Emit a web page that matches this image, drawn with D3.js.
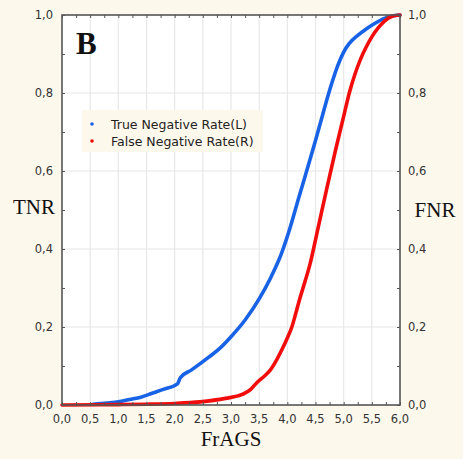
<!DOCTYPE html>
<html>
<head>
<meta charset="utf-8">
<script src="https://cdn.jsdelivr.net/npm/d3@7"></script>
<style>
  body { margin: 0; background: #fdf8ec; }
  svg { display: block; }
</style>
</head>
<body>
<div id="chart"></div>
<script>
// values
const tnrX = [0.55, 0.8, 1.0, 1.2, 1.4, 1.6, 1.8, 2.05, 2.1, 2.3, 2.6, 2.8, 3.0, 3.25, 3.5, 3.7, 3.9, 4.05, 4.2, 4.4, 4.5, 4.6, 4.7, 4.8, 4.9, 5.0, 5.1, 5.25, 5.4, 5.55, 5.7, 5.85, 6.0];
const tnrY = [0.002, 0.005, 0.008, 0.014, 0.02, 0.03, 0.04, 0.054, 0.07, 0.09, 0.122, 0.145, 0.175, 0.218, 0.272, 0.325, 0.39, 0.455, 0.53, 0.628, 0.678, 0.73, 0.782, 0.83, 0.872, 0.905, 0.927, 0.948, 0.964, 0.978, 0.99, 0.997, 1.0];

const fnrX = [0.0, 1.0, 1.5, 2.0, 2.45, 2.9, 3.2, 3.35, 3.45, 3.6, 3.7, 3.8, 3.9, 4.0, 4.08, 4.15, 4.22, 4.3, 4.4, 4.55, 4.7, 4.85, 5.0, 5.1, 5.2, 5.3, 5.4, 5.5, 5.62, 5.73, 5.85, 6.0];
const fnrY = [0.0, 0.001, 0.002, 0.004, 0.008, 0.017, 0.027, 0.04, 0.056, 0.075, 0.09, 0.113, 0.141, 0.172, 0.2, 0.235, 0.272, 0.31, 0.36, 0.457, 0.555, 0.65, 0.74, 0.8, 0.848, 0.887, 0.918, 0.944, 0.968, 0.985, 0.996, 1.0];

const xTicks = [0, 0.5, 1, 1.5, 2, 2.5, 3, 3.5, 4, 4.5, 5, 5.5, 6];
const yTicks = [0, 0.2, 0.4, 0.6, 0.8, 1.0];
const legendLabels = ["True Negative Rate(L)", "False Negative Rate(R)"];
const seriesColors = ["#1862e6", "#f20d0d"];

const W = 463, H = 459;
const margin = { top: 15, right: 63, bottom: 54, left: 62 };
const width = W - margin.left - margin.right,
      height = H - margin.top - margin.bottom;

const svg = d3.select("#chart").append("svg")
  .attr("width", W)
  .attr("height", H);

svg.append("rect")
  .attr("width", W).attr("height", H)
  .attr("fill", "#fdf8ec");

const g = svg.append("g")
  .attr("transform", `translate(${margin.left},${margin.top})`);

const x = d3.scaleLinear().domain([0, 6]).range([0, width]);
const y = d3.scaleLinear().domain([0, 1]).range([height, 0]);

// plot background
g.append("rect")
  .attr("width", width).attr("height", height)
  .attr("fill", "#fff");

// grid
g.selectAll(".vgrid").data(xTicks.slice(1, -1)).enter().append("line")
  .attr("x1", d => x(d)).attr("x2", d => x(d))
  .attr("y1", 0).attr("y2", height)
  .attr("stroke", "#e8e8e8").attr("stroke-width", 1.2);
g.selectAll(".hgrid").data(yTicks.slice(1, -1)).enter().append("line")
  .attr("x1", 0).attr("x2", width)
  .attr("y1", d => y(d)).attr("y2", d => y(d))
  .attr("stroke", "#e8e8e8").attr("stroke-width", 1.2);

// curves
const tnr = tnrX.map((v, i) => [v, tnrY[i]]);
const fnr = fnrX.map((v, i) => [v, fnrY[i]]);
const line = d3.line()
  .x(d => x(d[0]))
  .y(d => y(d[1]))
  .curve(d3.curveMonotoneX);

g.append("path").datum(tnr)
  .attr("d", line)
  .attr("fill", "none")
  .attr("stroke", seriesColors[0])
  .attr("stroke-width", 3.6)
  .attr("stroke-linejoin", "round")
  .attr("stroke-linecap", "round");

g.append("path").datum(fnr)
  .attr("d", line)
  .attr("fill", "none")
  .attr("stroke", seriesColors[1])
  .attr("stroke-width", 3.6)
  .attr("stroke-linejoin", "round")
  .attr("stroke-linecap", "round");

// axes - ticks point inward, labels drawn separately
const minorX = d3.range(0, 6.001, 0.25);
const minorY = d3.range(0, 1.001, 0.1);
const axisColor = "#555";

g.append("g")
  .attr("transform", `translate(0,${height})`)
  .call(d3.axisTop(x).tickValues(minorX).tickSize(3).tickFormat(""))
  .call(a => a.select(".domain").remove())
  .selectAll("line").attr("stroke", axisColor);
g.append("g")
  .call(d3.axisBottom(x).tickValues(minorX).tickSize(3).tickFormat(""))
  .call(a => a.select(".domain").remove())
  .selectAll("line").attr("stroke", axisColor);
g.append("g")
  .call(d3.axisRight(y).tickValues(minorY).tickSize(3).tickFormat(""))
  .call(a => a.select(".domain").remove())
  .selectAll("line").attr("stroke", axisColor);
g.append("g")
  .attr("transform", `translate(${width},0)`)
  .call(d3.axisLeft(y).tickValues(minorY).tickSize(3).tickFormat(""))
  .call(a => a.select(".domain").remove())
  .selectAll("line").attr("stroke", axisColor);

// frame
g.append("rect")
  .attr("width", width).attr("height", height)
  .attr("fill", "none")
  .attr("stroke", axisColor)
  .attr("stroke-width", 1.6);

const fmt = d => d3.format(".1f")(d).replace(".", ",");
const tickFont = "DejaVu Sans, Verdana, sans-serif";

g.selectAll(".xlab").data(xTicks).enter().append("text")
  .attr("x", d => x(d))
  .attr("y", height + 18)
  .attr("text-anchor", "middle")
  .attr("font-family", tickFont)
  .attr("font-size", "11.5px")
  .attr("fill", "#333")
  .text(fmt);

g.selectAll(".ylabL").data(yTicks).enter().append("text")
  .attr("x", -9)
  .attr("y", d => y(d) + 4)
  .attr("text-anchor", "end")
  .attr("font-family", tickFont)
  .attr("font-size", "11.5px")
  .attr("fill", "#333")
  .text(fmt);

g.selectAll(".ylabR").data(yTicks).enter().append("text")
  .attr("x", width + 8)
  .attr("y", d => y(d) + 4)
  .attr("text-anchor", "start")
  .attr("font-family", tickFont)
  .attr("font-size", "11.5px")
  .attr("fill", "#333")
  .text(fmt);

// axis titles
const serif = "Liberation Serif, Times New Roman, serif";
svg.append("text")
  .attr("x", 34).attr("y", 214)
  .attr("text-anchor", "middle")
  .attr("font-family", serif)
  .attr("font-size", "21px")
  .attr("fill", "#111")
  .text("TNR");
svg.append("text")
  .attr("x", 435).attr("y", 217)
  .attr("text-anchor", "middle")
  .attr("font-family", serif)
  .attr("font-size", "21px")
  .attr("fill", "#111")
  .text("FNR");
svg.append("text")
  .attr("x", margin.left + width / 2).attr("y", 446)
  .attr("text-anchor", "middle")
  .attr("font-family", serif)
  .attr("font-size", "21px")
  .attr("fill", "#111")
  .text("FrAGS");

// panel letter
svg.append("text")
  .attr("x", 76).attr("y", 54)
  .attr("font-family", serif)
  .attr("font-weight", "bold")
  .attr("font-size", "31px")
  .attr("fill", "#111")
  .text("B");

// legend
const legend = svg.append("g").attr("transform", "translate(82,110)");
legend.append("rect")
  .attr("width", 181).attr("height", 42)
  .attr("fill", "#fdf8ec");
legendLabels.forEach((lab, i) => {
  legend.append("circle")
    .attr("cx", 10).attr("cy", 14 + i * 17)
    .attr("r", 1.8)
    .attr("fill", seriesColors[i]);
  legend.append("text")
    .attr("x", 29).attr("y", 19 + i * 17)
    .attr("font-family", tickFont)
    .attr("font-size", "12.5px")
    .attr("fill", "#222")
    .text(lab);
});
</script>
</body>
</html>
